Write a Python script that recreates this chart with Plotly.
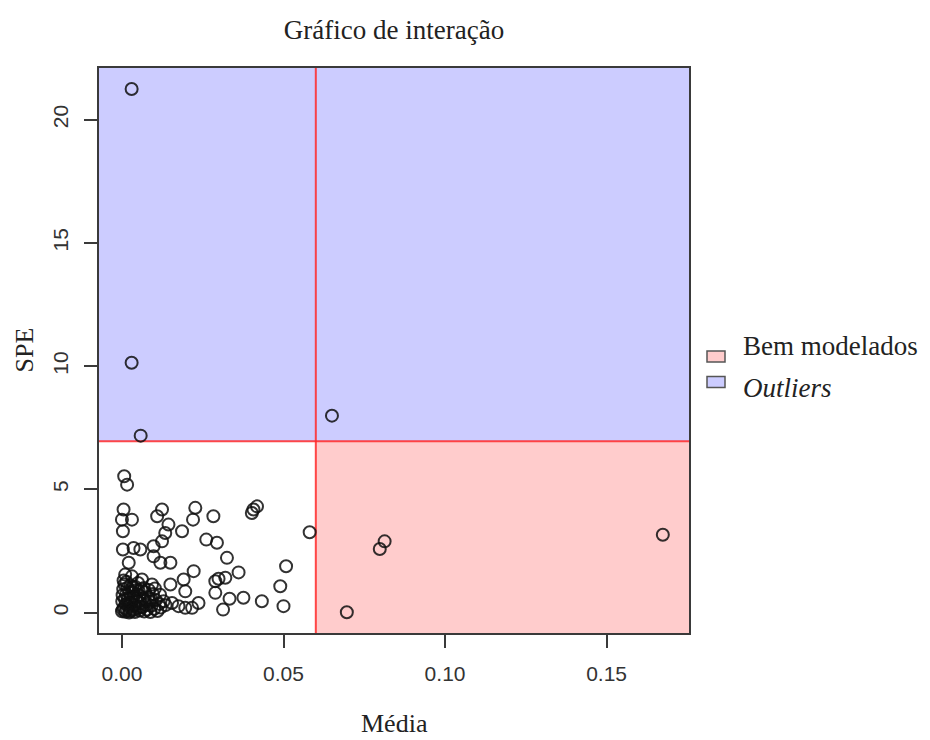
import plotly.graph_objects as go

# ---- data (Média, SPE) ----
media = [
    0.0030, 0.0030, 0.0058, 0.0650, 0.1674, 0.0813, 0.0798, 0.0696, 0.0581,
    0.0007, 0.0016, 0.0005, 0.0000, 0.0031, 0.0003, 0.0124, 0.0109, 0.0144,
    0.0134, 0.0124, 0.0098, 0.0186, 0.0227, 0.0220, 0.0283, 0.0261, 0.0294,
    0.0003, 0.0036, 0.0057, 0.0021, 0.0098, 0.0119, 0.0150, 0.0222, 0.0191,
    0.0150, 0.0196, 0.0237, 0.0289, 0.0289,
    0.0407, 0.0418, 0.0402, 0.0325, 0.0508, 0.0361, 0.0299, 0.0320, 0.0490,
    0.0333, 0.0376, 0.0433, 0.0500, 0.0313,
    0.0010, 0.0031, 0.0062, 0.0093, 0.0155, 0.0175, 0.0196, 0.0217, 0.0129,
    0.0000, 0.0003, 0.0006, 0.0010, 0.0012, 0.0015, 0.0018, 0.0020, 0.0023,
    0.0025, 0.0028, 0.0030, 0.0033, 0.0035, 0.0038, 0.0040, 0.0043, 0.0045,
    0.0048, 0.0050, 0.0053, 0.0055, 0.0058, 0.0060, 0.0063, 0.0066, 0.0069,
    0.0072, 0.0075, 0.0078, 0.0081, 0.0085, 0.0088, 0.0092, 0.0096, 0.0100,
    0.0105, 0.0110, 0.0115, 0.0120, 0.0002, 0.0004, 0.0008, 0.0001, 0.0013,
    0.0017, 0.0022, 0.0027, 0.0031, 0.0036,
    0.0005, 0.0014, 0.0026, 0.0041, 0.0052, 0.0068, 0.0083, 0.0102, 0.0118,
    0.0135, 0.0009, 0.0044, 0.0071, 0.0090, 0.0019, 0.0057,
]
spe = [
    21.25, 10.14, 7.18, 7.99, 3.16, 2.89, 2.58, 0.01, 3.26,
    5.53, 5.19, 4.18, 3.77, 3.77, 3.30, 4.18, 3.91, 3.57,
    3.23, 2.89, 2.69, 3.30, 4.25, 3.77, 3.91, 2.96, 2.83,
    2.56, 2.62, 2.56, 2.02, 2.28, 2.02, 2.02, 1.68, 1.34,
    1.14, 0.86, 0.39, 1.27, 0.80,
    4.18, 4.31, 4.04, 2.22, 1.88, 1.63, 1.37, 1.41, 1.07,
    0.56, 0.60, 0.46, 0.26, 0.12,
    1.54, 1.47, 1.34, 1.14, 0.39, 0.26, 0.19, 0.19, 0.46,
    0.05, 0.12, 0.20, 0.03, 0.35, 0.10, 0.55, 0.25, 0.80,
    0.05, 0.40, 0.15, 1.05, 0.65, 0.30, 0.02, 0.90, 0.48,
    0.18, 1.20, 0.70, 0.08, 0.38, 0.95, 0.22, 0.58, 0.04,
    0.82, 0.30, 0.12, 0.62, 0.45, 0.02, 0.28, 0.75, 0.15,
    0.50, 0.06, 0.35, 0.20, 0.70, 0.95, 1.15, 0.45, 0.75,
    1.00, 0.00, 0.60, 0.85, 0.10,
    1.30, 1.25, 1.10, 1.05, 0.88, 1.00, 0.92, 0.98, 0.72,
    0.30, 0.55, 0.62, 0.48, 0.55, 0.38, 0.22,
]
limite_media = 0.06
limite_spe = 6.95
x_ticks = [0.00, 0.05, 0.10, 0.15]
x_tick_labels = ["0.00", "0.05", "0.10", "0.15"]
y_ticks = [0, 5, 10, 15, 20]
y_tick_labels = ["0", "5", "10", "15", "20"]
legend_labels = ["Bem modelados", "<i>Outliers</i>"]
legend_colors = ["#FFCCCC", "#CCCCFF"]

x_range = [-0.0071, 0.1755]
y_range = [-0.83, 22.1]

serif = "Liberation Serif, Times New Roman, serif"
sans = "Liberation Sans, Arial, sans-serif"

# plot-area geometry in pixels (used for paper-referenced legend placement)
W, H = 930, 740
ML, MR, MT, MB = 99, 241, 68, 107
PW, PH = W - ML - MR, H - MT - MB


def px_x(px):
    return (px - ML) / PW


def px_y(py):
    return (H - MB - py) / PH


fig = go.Figure()

fig.add_trace(go.Scatter(
    x=media, y=spe, mode="markers", showlegend=False,
    marker=dict(symbol="circle-open", size=12, color="rgba(15,15,15,0.85)",
                line=dict(width=2)),
    hoverinfo="x+y",
))

# regions
fig.add_shape(type="rect", xref="x", yref="y", layer="below",
              x0=x_range[0], x1=x_range[1], y0=limite_spe, y1=y_range[1],
              fillcolor=legend_colors[1], line_width=0)
fig.add_shape(type="rect", xref="x", yref="y", layer="below",
              x0=limite_media, x1=x_range[1], y0=y_range[0], y1=limite_spe,
              fillcolor=legend_colors[0], line_width=0)
fig.add_shape(type="line", xref="x", yref="y", layer="below",
              x0=x_range[0], x1=x_range[1], y0=limite_spe, y1=limite_spe,
              line=dict(color="rgba(255,40,40,0.85)", width=2))
fig.add_shape(type="line", xref="x", yref="y", layer="below",
              x0=limite_media, x1=limite_media, y0=y_range[0], y1=y_range[1],
              line=dict(color="rgba(255,40,40,0.85)", width=2))

# legend (outside the plot, R-style)
box_tops = [351, 376.5]
text_centers = [346, 388]
annotations = []
for lab, col, bt, tc in zip(legend_labels, legend_colors, box_tops, text_centers):
    fig.add_shape(type="rect", xref="paper", yref="paper",
                  x0=px_x(707), x1=px_x(725), y0=px_y(bt + 11), y1=px_y(bt),
                  fillcolor=col, line=dict(color="#555555", width=1.5))
    annotations.append(dict(text=lab, xref="paper", yref="paper",
                            x=px_x(741), y=px_y(tc), xanchor="left",
                            yanchor="middle", showarrow=False,
                            font=dict(family=serif, size=27, color="#222222")))

annotations += [
    dict(text="Média", xref="paper", yref="paper", x=0.5, y=0,
         yshift=-90, yanchor="middle", showarrow=False,
         font=dict(family=serif, size=26, color="#222222")),
    dict(text="SPE", xref="paper", yref="paper", x=0, y=0.5,
         xshift=-75, xanchor="center", textangle=-90, showarrow=False,
         font=dict(family=serif, size=26, color="#222222")),
]

axis_common = dict(showgrid=False, zeroline=False, showline=True, mirror=True,
                   linecolor="#3a3a3a", linewidth=2, ticks="outside",
                   ticklen=13, tickwidth=2, tickcolor="#3a3a3a",
                   tickfont=dict(family=sans, size=21, color="#333333"))

fig.update_layout(
    width=W, height=H,
    margin=dict(l=ML, r=MR, t=MT, b=MB),
    paper_bgcolor="white", plot_bgcolor="white",
    showlegend=False,
    title=dict(text="Gráfico de interação", x=0.5, xref="paper",
               y=1 - 30 / H, yref="container", yanchor="middle",
               font=dict(family=serif, size=27, color="#222222")),
    xaxis=dict(range=x_range, tickvals=x_ticks, ticktext=x_tick_labels,
               ticklabelstandoff=8, **axis_common),
    yaxis=dict(range=y_range, tickvals=y_ticks, ticktext=y_tick_labels,
               tickangle=-90, ticklabelstandoff=8, **axis_common),
    annotations=annotations,
)

fig.write_html("out.html")
